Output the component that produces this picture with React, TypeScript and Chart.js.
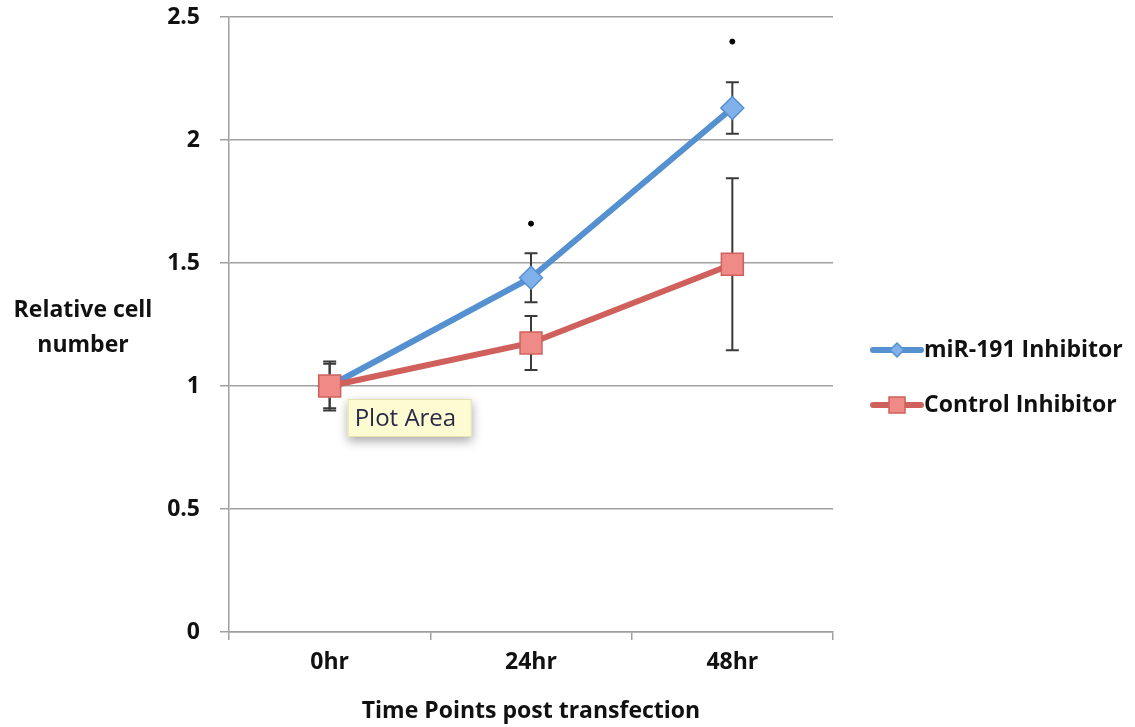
import React, { useEffect, useRef } from "react";
import { Chart, registerables } from "chart.js";

Chart.register(...registerables);

const timePoints = ["0hr", "24hr", "48hr"];
const inhibitorValues = [1.0, 1.44, 2.13];
const inhibitorErrors = [0.09, 0.1, 0.105];
const controlValues = [1.0, 1.175, 1.495];
const controlErrors = [0.1, 0.11, 0.35];
const significanceMarks = [null, 1.66, 2.4];
const yTicks = [0, 0.5, 1, 1.5, 2, 2.5];

const seriesNames = ["miR-191 Inhibitor", "Control Inhibitor"];
const blue = "#5590d0";
const blueFill = "#7fb0ea";
const red = "#d0605c";
const redFill = "#f08a86";
const FONT = "'Open Sans', Lato, sans-serif";

const errorBars = {
  id: "errorBars",
  beforeDatasetsDraw(chart: any) {
    const { ctx, scales } = chart;
    const x = scales.x;
    const y = scales.y;
    const sets = [
      { v: inhibitorValues, e: inhibitorErrors },
      { v: controlValues, e: controlErrors },
    ];
    ctx.save();
    ctx.strokeStyle = "#3a3a3a";
    ctx.lineWidth = 2;
    sets.forEach((s) => {
      s.v.forEach((val, i) => {
        const px = x.getPixelForValue(i);
        const top = y.getPixelForValue(val + s.e[i]);
        const bot = y.getPixelForValue(val - s.e[i]);
        ctx.beginPath();
        ctx.moveTo(px, top);
        ctx.lineTo(px, bot);
        ctx.moveTo(px - 6.5, top);
        ctx.lineTo(px + 6.5, top);
        ctx.moveTo(px - 6.5, bot);
        ctx.lineTo(px + 6.5, bot);
        ctx.stroke();
      });
    });
    ctx.restore();
  },
};

const decorations = {
  id: "decorations",
  afterDraw(chart: any) {
    const { ctx, scales, chartArea } = chart;
    ctx.save();
    // axis titles
    ctx.fillStyle = "#111";
    ctx.font = `bold 23px ${FONT}`;
    ctx.textAlign = "center";
    ctx.textBaseline = "middle";
    ctx.fillText("Relative cell", 83, 310);
    ctx.fillText("number", 83, 345);
    ctx.font = `bold 23px ${FONT}`;
    ctx.fillText("Time Points post transfection", (chartArea.left + chartArea.right) / 2, 711);

    // legend
    const items = [
      { name: seriesNames[0], color: blue, fill: blueFill, shape: "diamond", y: 350 },
      { name: seriesNames[1], color: red, fill: redFill, shape: "square", y: 405 },
    ];
    items.forEach((it) => {
      ctx.strokeStyle = it.color;
      ctx.lineWidth = 6;
      ctx.lineCap = "round";
      ctx.beginPath();
      ctx.moveTo(873, it.y);
      ctx.lineTo(921, it.y);
      ctx.stroke();
      ctx.fillStyle = it.fill;
      ctx.strokeStyle = it.color;
      ctx.lineWidth = 1.5;
      ctx.beginPath();
      if (it.shape === "diamond") {
        ctx.moveTo(897, it.y - 7);
        ctx.lineTo(904, it.y);
        ctx.lineTo(897, it.y + 7);
        ctx.lineTo(890, it.y);
        ctx.closePath();
      } else {
        ctx.rect(889, it.y - 8, 16, 16);
      }
      ctx.fill();
      ctx.stroke();
      ctx.fillStyle = "#111";
      ctx.font = `bold 23px ${FONT}`;
      ctx.textAlign = "left";
      ctx.textBaseline = "middle";
      ctx.fillText(it.name, 924, it.y);
    });

    // hover tag next to the first point
    const px = scales.x.getPixelForValue(0);
    const py = scales.y.getPixelForValue(controlValues[0]);
    const bx = px + 18;
    const by = py + 13;
    const bw = 124;
    const bh = 38;
    ctx.shadowColor = "rgba(0,0,0,0.35)";
    ctx.shadowBlur = 10;
    ctx.shadowOffsetY = 4;
    ctx.fillStyle = "#fdfbd2";
    ctx.fillRect(bx, by, bw, bh);
    ctx.shadowColor = "transparent";
    ctx.strokeStyle = "#e6e2b0";
    ctx.lineWidth = 1;
    ctx.strokeRect(bx + 0.5, by + 0.5, bw - 1, bh - 1);
    ctx.fillStyle = "#2a2a48";
    ctx.font = `24px ${FONT}`;
    ctx.textAlign = "left";
    ctx.textBaseline = "middle";
    ctx.fillText("Plot Area", bx + 7, by + bh / 2 + 1);
    ctx.restore();
  },
};

export default function App() {
  const ref = useRef<HTMLCanvasElement>(null);

  useEffect(() => {
    document.body.style.margin = "0";
    const chart = new Chart(ref.current!, {
      type: "line",
      data: {
        labels: timePoints,
        datasets: [
          {
            label: "significance",
            data: significanceMarks,
            showLine: false,
            pointStyle: "circle",
            pointRadius: 2.5,
            pointBackgroundColor: "#000",
            pointBorderColor: "#000",
            order: 0,
          },
          {
            label: seriesNames[1],
            data: controlValues,
            borderColor: red,
            borderWidth: 6,
            pointStyle: "rect",
            pointRadius: 15.5,
            pointBackgroundColor: redFill,
            pointBorderColor: red,
            pointBorderWidth: 1.5,
            order: 1,
          },
          {
            label: seriesNames[0],
            data: inhibitorValues,
            borderColor: blue,
            borderWidth: 6,
            pointStyle: "rectRot",
            pointRadius: 11.5,
            pointBackgroundColor: blueFill,
            pointBorderColor: blue,
            pointBorderWidth: 1.5,
            order: 2,
          },
        ],
      },
      options: {
        animation: false,
        responsive: false,
        maintainAspectRatio: false,
        layout: { padding: { top: 15, right: 302, left: 0, bottom: 0 } },
        plugins: { legend: { display: false }, tooltip: { enabled: false } },
        scales: {
          x: {
            offset: true,
            grid: {
              display: true,
              offset: true,
              drawOnChartArea: false,
              tickLength: 8,
              color: "#a0a0a0",
              lineWidth: 1.5,
            },
            border: { color: "#a0a0a0", width: 1.5 },
            ticks: {
              color: "#111",
              font: { family: FONT, size: 23, weight: "bold" },
              padding: 9,
            },
            afterFit(scale: any) {
              scale.height = 95;
              scale.paddingLeft = 0;
              scale.paddingRight = 0;
            },
          },
          y: {
            min: 0,
            max: 2.5,
            afterBuildTicks(scale: any) {
              scale.ticks = yTicks.map((v) => ({ value: v }));
            },
            grid: { color: "#a0a0a0", lineWidth: 1.5, tickLength: 9 },
            border: { color: "#a0a0a0", width: 1.5 },
            ticks: {
              color: "#111",
              font: { family: FONT, size: 23, weight: "bold" },
              padding: 20,
              callback: (v: any) => String(v),
            },
            afterFit(scale: any) {
              scale.width = 229;
              scale.paddingTop = 0;
              scale.paddingBottom = 0;
            },
          },
        },
      },
      plugins: [errorBars, decorations],
    });
    return () => chart.destroy();
  }, []);

  return (
    <div style={{ width: 1135, height: 727 }}>
      <canvas ref={ref} width={1135} height={727} style={{ display: "block" }} />
    </div>
  );
}
